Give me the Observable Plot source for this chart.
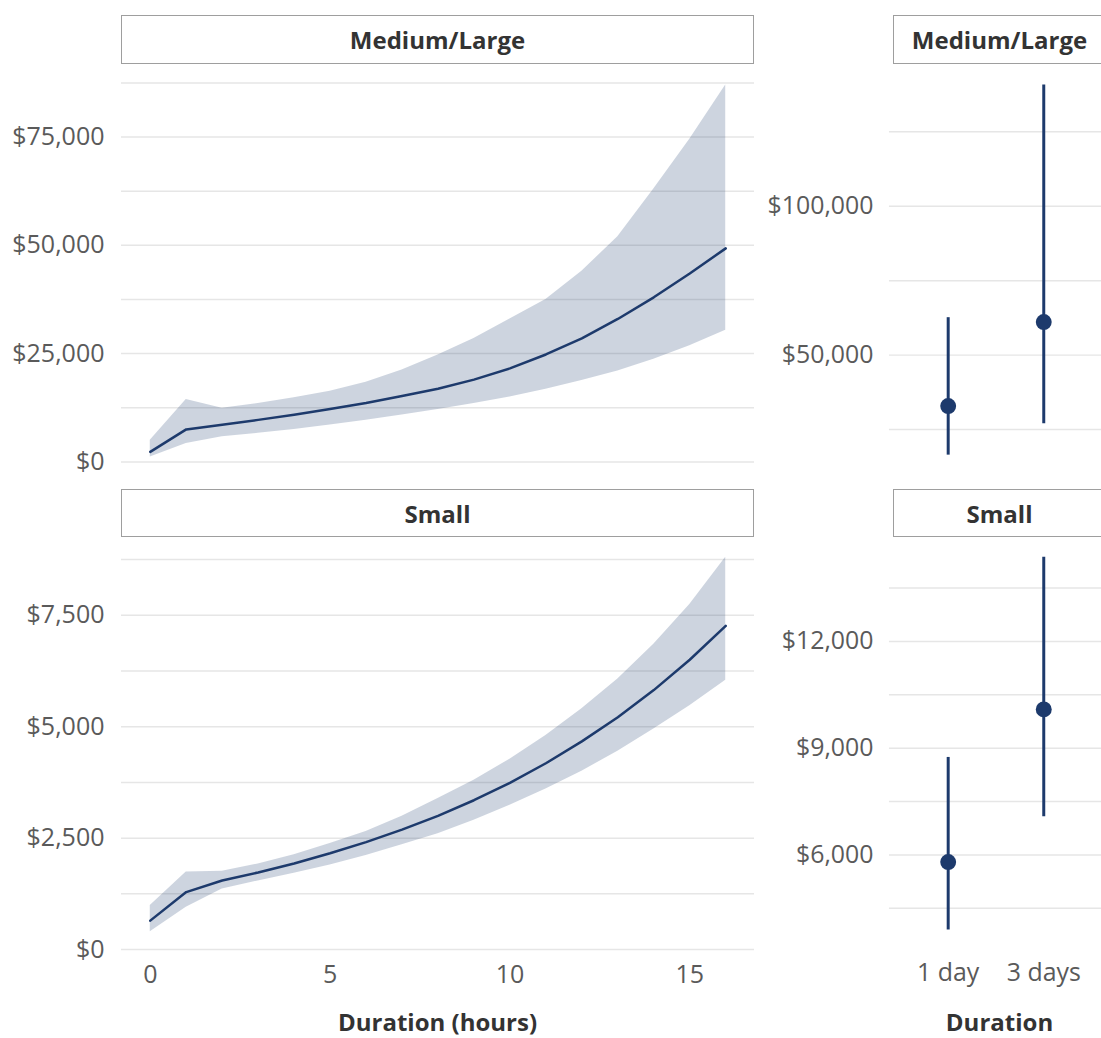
<!DOCTYPE html>
<html>
<head>
<meta charset="utf-8">
<script src="https://cdn.jsdelivr.net/npm/d3@7"></script>
<script src="https://cdn.jsdelivr.net/npm/@observablehq/plot@0.6"></script>
<style>
  html, body { margin: 0; padding: 0; background: #fff; overflow: hidden; }
  #root { position: relative; width: 1101px; height: 1038px; overflow: hidden; font-family: "Open Sans", sans-serif; }
  .strip { position: absolute; box-sizing: border-box; border: 1.5px solid #9e9e9e; background: #fff;
           display: flex; align-items: center; justify-content: center;
           font-weight: 700; font-size: 24px; color: #333; white-space: nowrap; }
  .panel { position: absolute; }
  .title { position: absolute; font-weight: 700; font-size: 24px; color: #333; line-height: 26px;
           transform: translateX(-50%); white-space: nowrap; }
</style>
</head>
<body>
<div id="root"></div>
<script>
// ---------------- data ----------------
const hours = [0, 1, 2, 3, 4, 5, 6, 7, 8, 9, 10, 11, 12, 13, 14, 15, 16];

// Medium/Large, by hours
const mlMean = [2300, 7500, 8600, 9700, 10900, 12200, 13600, 15200, 16900, 19000, 21600, 24800, 28500, 33000, 38000, 43500, 49300];
const mlLow  = [1150, 4250, 5800, 6600, 7500, 8500, 9600, 10800, 12100, 13500, 15000, 16800, 18800, 21000, 23700, 26800, 30400];
const mlHigh = [5000, 14400, 12400, 13500, 14800, 16300, 18400, 21200, 24700, 28500, 33000, 37500, 44000, 52000, 63000, 74500, 87000];

// Small, by hours
const smMean = [650, 1290, 1550, 1730, 1930, 2160, 2410, 2690, 3000, 3350, 3740, 4180, 4670, 5210, 5820, 6500, 7260];
const smLow  = [400, 950, 1360, 1540, 1710, 1900, 2110, 2350, 2600, 2900, 3240, 3600, 4000, 4450, 4950, 5470, 6040];
const smHigh = [990, 1740, 1760, 1920, 2130, 2380, 2650, 2990, 3390, 3800, 4270, 4800, 5400, 6070, 6850, 7740, 8800];

// By days
const durations = ["1 day", "3 days"];
const mlDayMean = [32900, 61100];
const mlDayLow  = [16430, 27000];
const mlDayHigh = [62570, 140670];
const smDayMean = [5800, 10090];
const smDayLow  = [3890, 7070];
const smDayHigh = [8740, 14370];

// Facet labels and axis titles
const facetLabels = ["Medium/Large", "Small"];
const xTitleHours = "Duration (hours)";
const xTitleDays = "Duration";

// Tick labels (major) and grid lines (major + minor)
const hourTicks = [0, 5, 10, 15];
const mlHourYTicks = [0, 25000, 50000, 75000];
const mlHourYGrid  = [0, 12500, 25000, 37500, 50000, 62500, 75000, 87500];
const smHourYTicks = [0, 2500, 5000, 7500];
const smHourYGrid  = [0, 1250, 2500, 3750, 5000, 6250, 7500, 8750];
const mlDayYTicks = [50000, 100000];
const mlDayYGrid  = [25000, 50000, 75000, 100000, 125000];
const smDayYTicks = [6000, 9000, 12000];
const smDayYGrid  = [4500, 6000, 7500, 9000, 10500, 12000, 13500];

// ---------------- styling ----------------
const NAVY = "#1d3a6c";
const GRID = "#e6e6e6";
const TICK_COLOR = "#5a5a5a";
const FONT = "Open Sans, sans-serif";
const TICK_FS = 25;
const dollar = v => "$" + d3.format(",")(v);
const expand = ([a, b]) => { const p = (b - a) * 0.05; return [a - p, b + p]; };

const root = document.getElementById("root");

const L = { left: 121, right: 754 };
const R = { left: 893, right: 1106 };
const rows = [
  { stripTop: 15, stripH: 49, top: 66, h: 409 },
  { stripTop: 489, stripH: 48, top: 538, h: 412 }
];
const MB = 60; // bottom margin of each svg (room for x tick labels)

function place(node, left, top) {
  node.classList.add("panel");
  node.style.left = left + "px";
  node.style.top = top + "px";
  root.appendChild(node);
}
function strip(text, left, width, top, h) {
  const d = document.createElement("div");
  d.className = "strip";
  d.textContent = text;
  Object.assign(d.style, { left: left + "px", top: top + "px", width: width + "px", height: h + "px" });
  root.appendChild(d);
}
function title(text, cx, top) {
  const d = document.createElement("div");
  d.className = "title";
  d.textContent = text;
  Object.assign(d.style, { left: cx + "px", top: top + "px" });
  root.appendChild(d);
}

function hourPanel(row, mean, low, high, yTicks, yGrid, showX) {
  const data = hours.map((h, i) => ({ h, m: mean[i], lo: low[i], hi: high[i] }));
  const marks = [
    Plot.ruleY(yGrid, { stroke: GRID, strokeWidth: 1.5 }),
    Plot.areaY(data, { x: "h", y1: "lo", y2: "hi", fill: NAVY, fillOpacity: 0.22 }),
    Plot.line(data, { x: "h", y: "m", stroke: NAVY, strokeWidth: 2.5 }),
    Plot.axisY(yTicks, { tickSize: 0, tickPadding: 17, tickFormat: dollar, label: null, fontSize: TICK_FS, fill: TICK_COLOR })
  ];
  if (showX) marks.push(Plot.axisX(hourTicks, { tickSize: 0, tickPadding: 15, label: null, fontSize: TICK_FS, fill: TICK_COLOR }));
  const svg = Plot.plot({
    width: L.right, height: row.h + MB,
    marginLeft: L.left, marginRight: 0, marginTop: 0, marginBottom: MB,
    style: { fontFamily: FONT, background: "transparent", overflow: "visible" },
    x: { domain: expand(d3.extent(hours)), axis: null },
    y: { domain: expand([d3.min(low), d3.max(high)]), axis: null },
    marks
  });
  place(svg, 0, row.top);
}

function dayPanel(row, mean, low, high, yTicks, yGrid, showX) {
  const data = durations.map((d, i) => ({ d, m: mean[i], lo: low[i], hi: high[i] }));
  const marks = [
    Plot.ruleY(yGrid, { stroke: GRID, strokeWidth: 1.5 }),
    Plot.ruleX(data, { x: "d", y1: "lo", y2: "hi", stroke: NAVY, strokeWidth: 3 }),
    Plot.dot(data, { x: "d", y: "m", r: 8, fill: NAVY, stroke: "none" }),
    Plot.axisY(yTicks, { tickSize: 0, tickPadding: 16, tickFormat: dollar, label: null, fontSize: TICK_FS, fill: TICK_COLOR })
  ];
  if (showX) marks.push(Plot.axisX(durations, { tickSize: 0, tickPadding: 15, label: null, fontSize: TICK_FS, fill: TICK_COLOR }));
  const svg = Plot.plot({
    width: R.right, height: row.h + MB,
    marginLeft: R.left, marginRight: 0, marginTop: 0, marginBottom: MB,
    style: { fontFamily: FONT, background: "transparent", overflow: "visible" },
    x: { type: "point", domain: durations, padding: 0.6, axis: null },
    y: { domain: expand([d3.min(low), d3.max(high)]), axis: null },
    marks
  });
  place(svg, 0, row.top);
}

hourPanel(rows[0], mlMean, mlLow, mlHigh, mlHourYTicks, mlHourYGrid, false);
dayPanel(rows[0], mlDayMean, mlDayLow, mlDayHigh, mlDayYTicks, mlDayYGrid, false);
hourPanel(rows[1], smMean, smLow, smHigh, smHourYTicks, smHourYGrid, true);
dayPanel(rows[1], smDayMean, smDayLow, smDayHigh, smDayYTicks, smDayYGrid, true);

rows.forEach((row, i) => {
  strip(facetLabels[i], L.left, L.right - L.left, row.stripTop, row.stripH);
  strip(facetLabels[i], R.left, R.right - R.left, row.stripTop, row.stripH);
});

title(xTitleHours, (L.left + L.right) / 2, 1009);
title(xTitleDays, (R.left + R.right) / 2, 1009);
</script>
</body>
</html>
